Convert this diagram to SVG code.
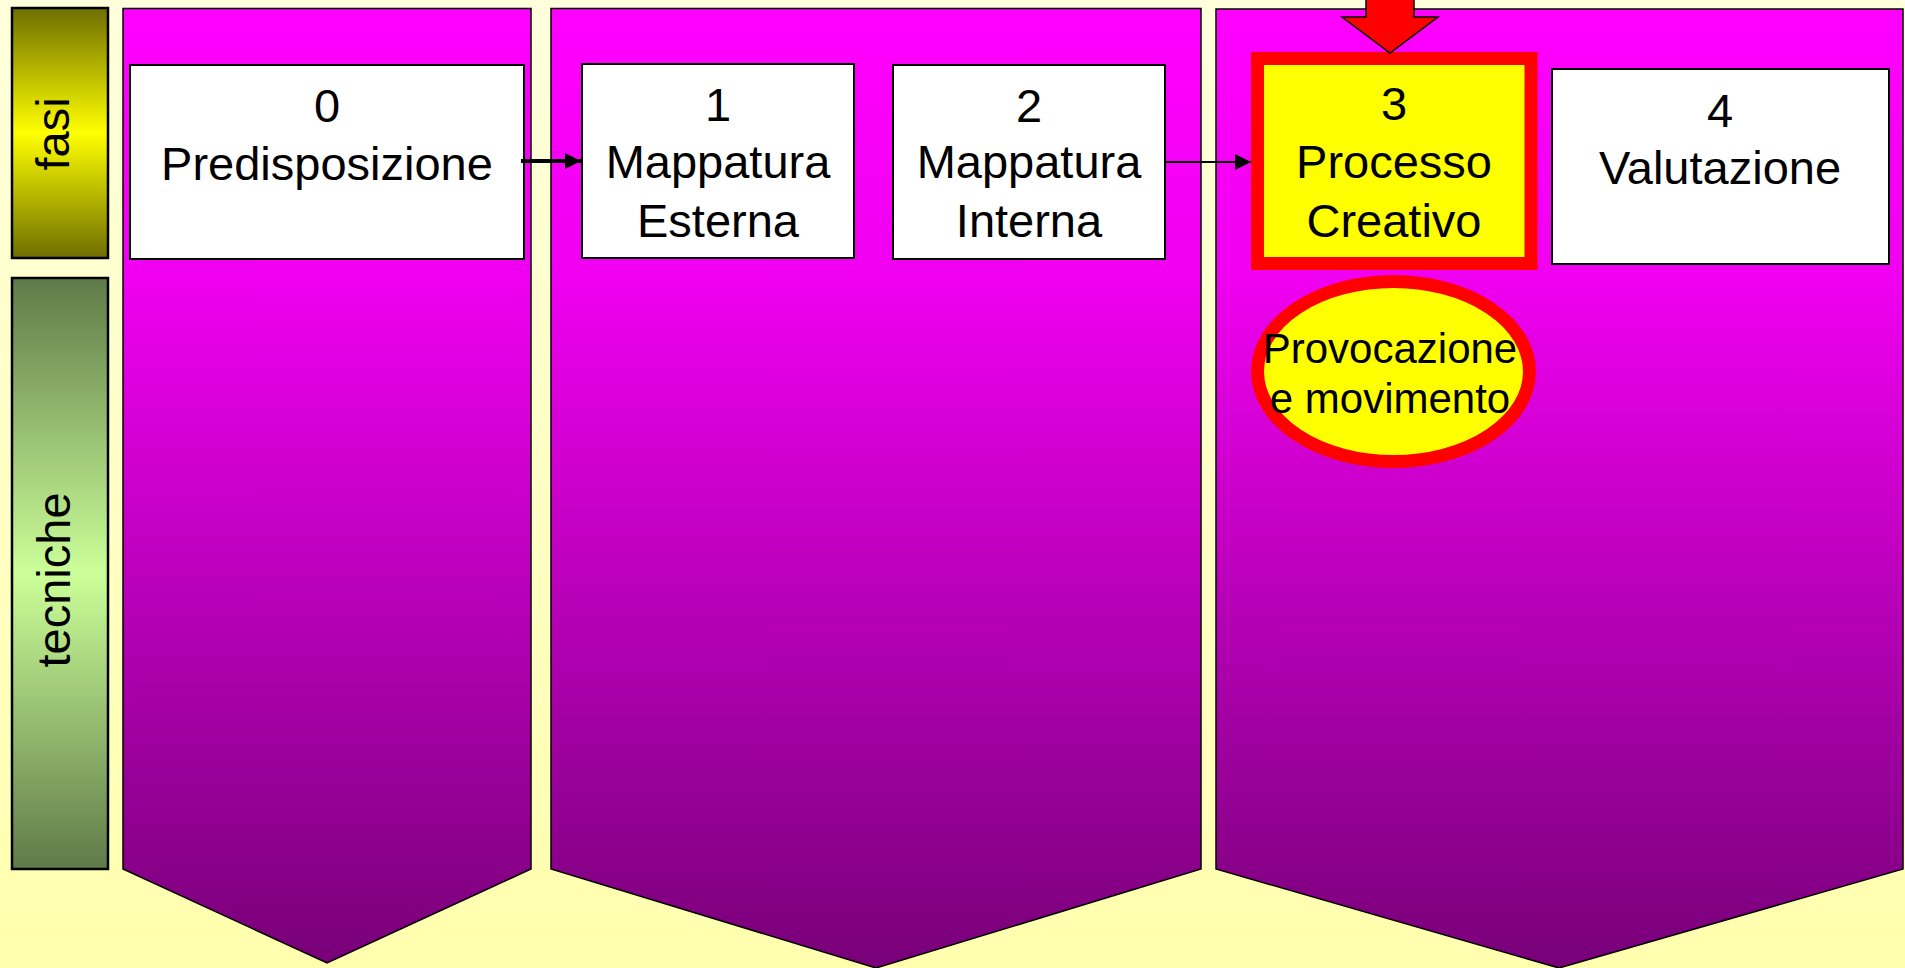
<svg xmlns="http://www.w3.org/2000/svg" width="1905" height="968" viewBox="0 0 1905 968">
<defs>
<linearGradient id="bg" x1="0" y1="0" x2="0" y2="1">
<stop offset="0" stop-color="#ffffdc"/>
<stop offset="1" stop-color="#ffffae"/>
</linearGradient>
<linearGradient id="panel" x1="0" y1="0" x2="0" y2="1">
<stop offset="0" stop-color="#ff00ff"/>
<stop offset="0.28" stop-color="#f000f0"/>
<stop offset="1" stop-color="#780078"/>
</linearGradient>
<linearGradient id="fasi" x1="0" y1="0" x2="0" y2="1">
<stop offset="0" stop-color="#6e6e00"/>
<stop offset="0.5" stop-color="#ffff00"/>
<stop offset="1" stop-color="#6e6e00"/>
</linearGradient>
<linearGradient id="tec" x1="0" y1="0" x2="0" y2="1">
<stop offset="0" stop-color="#5f7a48"/>
<stop offset="0.5" stop-color="#ccff99"/>
<stop offset="1" stop-color="#5f7a48"/>
</linearGradient>
<marker id="ah" viewBox="0 0 10 10" refX="10" refY="5" markerWidth="4" markerHeight="4" orient="auto" markerUnits="strokeWidth">
<path d="M0,0 L10,5 L0,10 z" fill="#000"/>
</marker>
<marker id="ah2" viewBox="0 0 10 10" refX="10" refY="5" markerWidth="8" markerHeight="8" orient="auto" markerUnits="strokeWidth">
<path d="M0,0 L10,5 L0,10 z" fill="#000"/>
</marker>
</defs>
<style>
text { font-family: "Liberation Sans", Arial, sans-serif; fill: #000; }
.lbl { font-size: 47px; text-anchor: middle; }
.small { font-size: 42px; text-anchor: middle; }
.panel { fill: url(#panel); stroke: #000; stroke-width: 1.5; }
.box { fill: #fff; stroke: #000; stroke-width: 2; }
.conn { fill: none; stroke: #000; }
</style>
<rect x="0" y="0" width="1905" height="968" fill="url(#bg)"/>

<g id="side-fasi">
<rect x="12" y="8" width="96" height="250" fill="url(#fasi)" stroke="#000" stroke-width="2.5"/>
<text class="lbl" transform="translate(69,134) rotate(-90)">fasi</text>
</g>
<g id="side-tecniche">
<rect x="12" y="278" width="96" height="591" fill="url(#tec)" stroke="#000" stroke-width="2.5"/>
<text class="lbl" transform="translate(70,580) rotate(-90)">tecniche</text>
</g>

<g id="panel-1">
<path class="panel" d="M123,8.5 H531 V869 L327,963 L123,869 Z"/>
</g>
<g id="panel-2">
<path class="panel" d="M551,8.5 H1201 V869 L876,968 L551,869 Z"/>
</g>
<g id="panel-3">
<path class="panel" d="M1216,9 H1903 V869 L1559,968 L1216,869 Z"/>
</g>

<g id="node-0">
<rect class="box" x="130" y="65" width="394" height="194"/>
<text class="lbl" x="327" y="122">0</text>
<text class="lbl" x="327" y="180">Predisposizione</text>
</g>
<g id="node-1">
<rect class="box" x="582" y="64" width="272" height="194"/>
<text class="lbl" x="718" y="121">1</text>
<text class="lbl" x="718" y="178">Mappatura</text>
<text class="lbl" x="718" y="237">Esterna</text>
</g>
<g id="node-2">
<rect class="box" x="893" y="65" width="272" height="194"/>
<text class="lbl" x="1029" y="122">2</text>
<text class="lbl" x="1029" y="178">Mappatura</text>
<text class="lbl" x="1029" y="237">Interna</text>
</g>
<g id="node-3">
<rect x="1257.5" y="58.5" width="273.5" height="205" fill="#ffff00" stroke="#ff0000" stroke-width="13"/>
<text class="lbl" x="1394" y="120">3</text>
<text class="lbl" x="1394" y="178">Processo</text>
<text class="lbl" x="1394" y="237">Creativo</text>
</g>
<g id="node-4">
<rect class="box" x="1552" y="69" width="337" height="195"/>
<text class="lbl" x="1720" y="127">4</text>
<text class="lbl" x="1720" y="184">Valutazione</text>
</g>
<g id="node-provocazione">
<ellipse cx="1393.5" cy="371.5" rx="136" ry="90" fill="#ffff00" stroke="#ff0000" stroke-width="13"/>
<text class="small" x="1390" y="363">Provocazione</text>
<text class="small" x="1390" y="413">e movimento</text>
</g>
<g id="pointer">
<path d="M1366,-2 H1414 V17 H1438 L1390,53 L1342,17 H1366 Z" fill="#ff0000" stroke="#000" stroke-width="1.5"/>
</g>

<g id="connectors">
<line class="conn" x1="521" y1="161" x2="581" y2="161" stroke-width="4" marker-end="url(#ah)"/>
<line class="conn" x1="1165" y1="162" x2="1251" y2="162" stroke-width="2" marker-end="url(#ah2)"/>
</g>
</svg>
